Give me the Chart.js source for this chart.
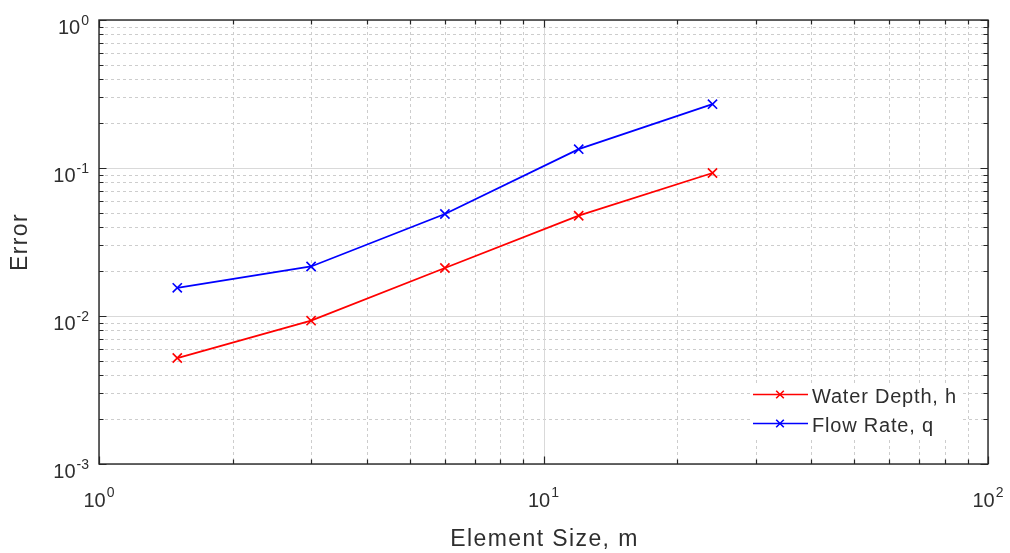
<!DOCTYPE html>
<html><head><meta charset="utf-8">
<script src="https://cdn.jsdelivr.net/npm/chart.js@4/dist/chart.umd.min.js"></script>
<style>html,body{margin:0;padding:0;background:#fff;overflow:hidden}canvas{display:block}</style>
</head><body>
<canvas id="c" width="1010" height="553"></canvas>
<script>
// ---- data ----
const elementSize = [1.5, 3, 6, 12, 24];
const waterDepthError = [0.0052, 0.0093, 0.0211, 0.0476, 0.0925];
const flowRateError = [0.0155, 0.0216, 0.0489, 0.134, 0.270];
const seriesNames = ['Water Depth, h', 'Flow Rate, q'];
const seriesColors = ['#ff0000', '#0000ff'];
const xDecadeTicks = [1, 10, 100];
const yDecadeTicks = [0.001, 0.01, 0.1, 1];
const xTickExponents = ['0', '1', '2'];
const yTickExponents = ['-3', '-2', '-1', '0'];
const minorMultipliers = [2, 3, 4, 5, 6, 7, 8, 9];
const xAxisTitle = 'Element Size, m';
const yAxisTitle = 'Error';

const FONT = '"Liberation Sans", Arial, Helvetica, sans-serif';
const TEXT = '#2e2e2e';

function minorTicks(decades) {
  const out = [];
  for (let i = 0; i < decades.length - 1; i++) minorMultipliers.forEach(m => out.push(m * decades[i]));
  return out;
}

function drawPow(ctx, exp, x, yBase, align, supOffset) {
  ctx.font = '20px ' + FONT;
  const wm = ctx.measureText('10').width;
  ctx.font = '14px ' + FONT;
  const ws = ctx.measureText(exp).width;
  const total = wm + 1 + ws;
  const start = align === 'center' ? x - total / 2 : x - total;
  ctx.textAlign = 'left';
  ctx.textBaseline = 'alphabetic';
  ctx.fillStyle = TEXT;
  ctx.font = '20px ' + FONT;
  ctx.fillText('10', start, yBase);
  ctx.font = '14px ' + FONT;
  ctx.fillText(exp, start + wm + 1, yBase - supOffset);
}

const gridPlugin = {
  id: 'matlabGrid',
  beforeDatasetsDraw(chart) {
    const {ctx, chartArea: a, scales: {x, y}} = chart;
    ctx.save();
    ctx.lineWidth = 1;
    ctx.strokeStyle = '#cdcdcd';
    ctx.setLineDash([3, 3]);
    minorTicks(xDecadeTicks).forEach(v => {
      const px = Math.round(x.getPixelForValue(v)) + 0.5;
      ctx.beginPath(); ctx.moveTo(px, a.top); ctx.lineTo(px, a.bottom); ctx.stroke();
    });
    minorTicks(yDecadeTicks).forEach(v => {
      const py = Math.round(y.getPixelForValue(v)) + 0.5;
      ctx.beginPath(); ctx.moveTo(a.left, py); ctx.lineTo(a.right, py); ctx.stroke();
    });
    ctx.setLineDash([]);
    ctx.strokeStyle = '#d9d9d9';
    xDecadeTicks.forEach(v => {
      const px = Math.round(x.getPixelForValue(v)) + 0.5;
      ctx.beginPath(); ctx.moveTo(px, a.top); ctx.lineTo(px, a.bottom); ctx.stroke();
    });
    yDecadeTicks.forEach(v => {
      const py = Math.round(y.getPixelForValue(v)) + 0.5;
      ctx.beginPath(); ctx.moveTo(a.left, py); ctx.lineTo(a.right, py); ctx.stroke();
    });
    ctx.restore();
  },
  afterDatasetsDraw(chart) {
    const {ctx, chartArea: a, scales: {x, y}} = chart;
    ctx.save();
    // legend
    ctx.fillStyle = '#ffffff';
    ctx.fillRect(752, 383, 210, 55);
    const legendRows = [394.5, 423.5];
    seriesNames.forEach((name, i) => {
      const ly = legendRows[i];
      ctx.strokeStyle = seriesColors[i];
      ctx.lineWidth = 1.6;
      ctx.setLineDash([]);
      ctx.beginPath(); ctx.moveTo(753, ly); ctx.lineTo(808, ly); ctx.stroke();
      const r = 3.8;
      ctx.beginPath();
      ctx.moveTo(780 - r, ly - r); ctx.lineTo(780 + r, ly + r);
      ctx.moveTo(780 - r, ly + r); ctx.lineTo(780 + r, ly - r);
      ctx.stroke();
      ctx.fillStyle = TEXT;
      ctx.font = '20px ' + FONT;
      ctx.letterSpacing = '0.8px';
      ctx.textAlign = 'left';
      ctx.textBaseline = 'alphabetic';
      ctx.fillText(name, 812, ly + 8);
      ctx.letterSpacing = '0px';
    });

    // frame
    ctx.strokeStyle = '#262626';
    ctx.lineWidth = 1.4;
    ctx.strokeRect(a.left, a.top, a.right - a.left, a.bottom - a.top);
    ctx.lineWidth = 1.2;
    const drawXT = (v, len) => {
      const px = Math.round(x.getPixelForValue(v)) + 0.5;
      ctx.beginPath();
      ctx.moveTo(px, a.bottom); ctx.lineTo(px, a.bottom - len);
      ctx.moveTo(px, a.top); ctx.lineTo(px, a.top + len);
      ctx.stroke();
    };
    const drawYT = (v, len) => {
      const py = Math.round(y.getPixelForValue(v)) + 0.5;
      ctx.beginPath();
      ctx.moveTo(a.left, py); ctx.lineTo(a.left + len, py);
      ctx.moveTo(a.right, py); ctx.lineTo(a.right - len, py);
      ctx.stroke();
    };
    minorTicks(xDecadeTicks).forEach(v => drawXT(v, 4.5));
    xDecadeTicks.forEach(v => drawXT(v, 7.5));
    minorTicks(yDecadeTicks).forEach(v => drawYT(v, 4.5));
    yDecadeTicks.forEach(v => drawYT(v, 7.5));

    // tick labels
    xDecadeTicks.forEach((v, i) => {
      drawPow(ctx, xTickExponents[i], x.getPixelForValue(v), a.bottom + 42.5, 'center', 9.5);
    });
    yDecadeTicks.forEach((v, i) => {
      drawPow(ctx, yTickExponents[i], a.left - 10, y.getPixelForValue(v) + 13.5, 'right', 9);
    });

    // axis titles
    ctx.fillStyle = TEXT;
    ctx.font = '23px ' + FONT;
    ctx.letterSpacing = '1.4px';
    ctx.textAlign = 'center';
    ctx.textBaseline = 'alphabetic';
    ctx.fillText(xAxisTitle, (a.left + a.right) / 2 + 1, 546);
    ctx.save();
    ctx.translate(26.5, (a.top + a.bottom) / 2);
    ctx.rotate(-Math.PI / 2);
    ctx.fillText(yAxisTitle, 0, 0);
    ctx.restore();
    ctx.letterSpacing = '0px';
    ctx.restore();
  }
};

const toPoints = arr => elementSize.map((v, i) => ({x: v, y: arr[i]}));

new Chart(document.getElementById('c'), {
  type: 'line',
  data: {
    datasets: [
      {label: seriesNames[0], data: toPoints(waterDepthError), borderColor: seriesColors[0], backgroundColor: seriesColors[0],
       borderWidth: 1.8, pointStyle: 'crossRot', pointRadius: 6.5, pointBorderWidth: 1.6, pointBorderColor: seriesColors[0], fill: false, tension: 0},
      {label: seriesNames[1], data: toPoints(flowRateError), borderColor: seriesColors[1], backgroundColor: seriesColors[1],
       borderWidth: 1.8, pointStyle: 'crossRot', pointRadius: 6.5, pointBorderWidth: 1.6, pointBorderColor: seriesColors[1], fill: false, tension: 0}
    ]
  },
  options: {
    responsive: false,
    animation: false,
    events: [],
    layout: {padding: {left: 99, right: 22, top: 20, bottom: 89}},
    scales: {
      x: {type: 'logarithmic', min: 1, max: 100, display: false},
      y: {type: 'logarithmic', min: 0.001, max: 1, display: false}
    },
    plugins: {legend: {display: false}, tooltip: {enabled: false}, title: {display: false}}
  },
  plugins: [gridPlugin]
});
</script>
</body></html>
